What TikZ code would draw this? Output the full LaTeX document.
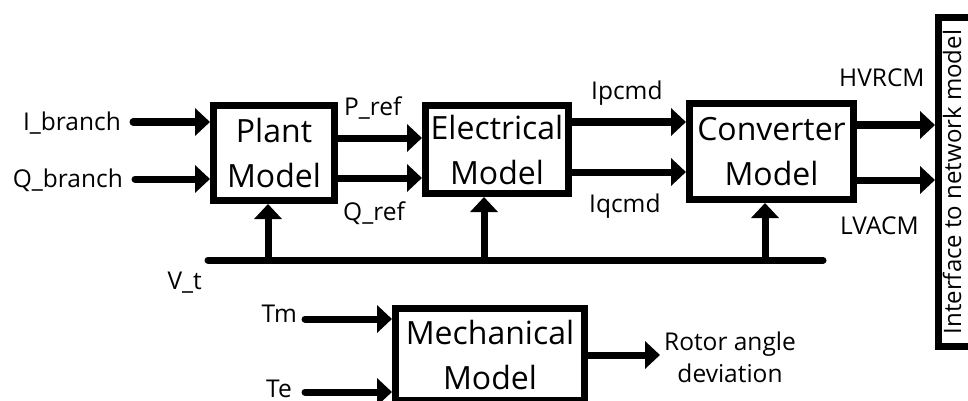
\documentclass[tikz,border=0pt]{standalone}
\usepackage{fontspec}
\setmainfont{Open Sans}
\usetikzlibrary{arrows.meta}
\begin{document}
\begin{tikzpicture}[x=1pt,y=-1pt,
  blk/.style={draw, line width=7pt, inner sep=0pt, align=center, font=\fontsize{32}{45}\selectfont},
  lbl/.style={inner sep=0pt, font=\fontsize{24.5}{30}\selectfont},
  arr/.style={line width=7pt, line cap=round, -{Triangle[length=15pt,width=27pt]}},
  busline/.style={line width=7pt, line cap=round}]
\useasboundingbox (0,0) rectangle (968,401);

% blocks
\node[blk, minimum width=121pt, minimum height=95pt] (plant) at (274,153) {Plant\\Model};
\node[blk, minimum width=143pt, minimum height=88pt] (elec) at (497,149.5) {Electrical\\Model};
\node[blk, minimum width=164pt, minimum height=96pt] (conv) at (771.5,151.5) {Converter\\Model};
\node[blk, minimum width=189pt, minimum height=92pt] (mech) at (490,354.5) {Mechanical\\Model};
\node[draw, line width=7pt, inner sep=0pt, minimum width=40pt, minimum height=329pt] (iface) at (958.5,182) {};
\node[inner sep=0pt, rotate=90, font=\fontsize{24}{28}\selectfont] (ifacetxt) at (952,182) {Interface to network model};

% labels
\node[lbl, anchor=base east] (ib) at (121,130) {I\_branch};
\node[lbl, anchor=base east] (qb) at (123,187) {Q\_branch};
\node[lbl, anchor=base west] (pref) at (344,116) {P\_ref};
\node[lbl, anchor=base west] (qref) at (343,220) {Q\_ref};
\node[lbl, anchor=base west] (ip) at (591,100) {Ipcmd};
\node[lbl, anchor=base west] (iq) at (589,212) {Iqcmd};
\node[lbl, anchor=base west] (hv) at (839,87) {HVRCM};
\node[lbl, anchor=base west] (lv) at (840,234) {LVACM};
\node[lbl, anchor=base east] (vt) at (202,289) {V\_t};
\node[lbl, anchor=base east] (tm) at (297,322) {Tm};
\node[lbl, anchor=base east] (te) at (292,397) {Te};
\node[lbl, anchor=base] (rot1) at (730,350) {Rotor angle};
\node[lbl, anchor=base] (rot2) at (730,382) {deviation};

% connector start points
\coordinate (ib0) at (133,122);
\coordinate (qb0) at (135,179);
\coordinate (pr0) at (0,138);
\coordinate (qr0) at (0,178);
\coordinate (ip0) at (0,122);
\coordinate (iq0) at (0,172);
\coordinate (hv0) at (0,125);
\coordinate (lv0) at (0,180);
\coordinate (busL) at (208,260);
\coordinate (busR) at (823,260);
\coordinate (vp) at (268,260);
\coordinate (ve) at (484,260);
\coordinate (vc) at (765,260);
\coordinate (tm0) at (305,319);
\coordinate (te0) at (305,392);
\coordinate (ro0) at (0,355);
\coordinate (roT) at (660,355);

% arrows
\draw[arr] (ib0) -- (ib0 -| plant.west);
\draw[arr] (qb0) -- (qb0 -| plant.west);
\draw[arr] (pr0 -| plant.east) -- (pr0 -| elec.west);
\draw[arr] (qr0 -| plant.east) -- (qr0 -| elec.west);
\draw[arr] (ip0 -| elec.east) -- (ip0 -| conv.west);
\draw[arr] (iq0 -| elec.east) -- (iq0 -| conv.west);
\draw[arr] (hv0 -| conv.east) -- (hv0 -| iface.west);
\draw[arr] (lv0 -| conv.east) -- (lv0 -| iface.west);
\draw[busline] (busL) -- (busR);
\draw[arr] (vp) -- (vp |- plant.south);
\draw[arr] (ve) -- (ve |- elec.south);
\draw[arr] (vc) -- (vc |- conv.south);
\draw[arr] (tm0) -- (tm0 -| mech.west);
\draw[arr] (te0) -- (te0 -| mech.west);
\draw[arr] (ro0 -| mech.east) -- (roT);
\end{tikzpicture}
\end{document}
